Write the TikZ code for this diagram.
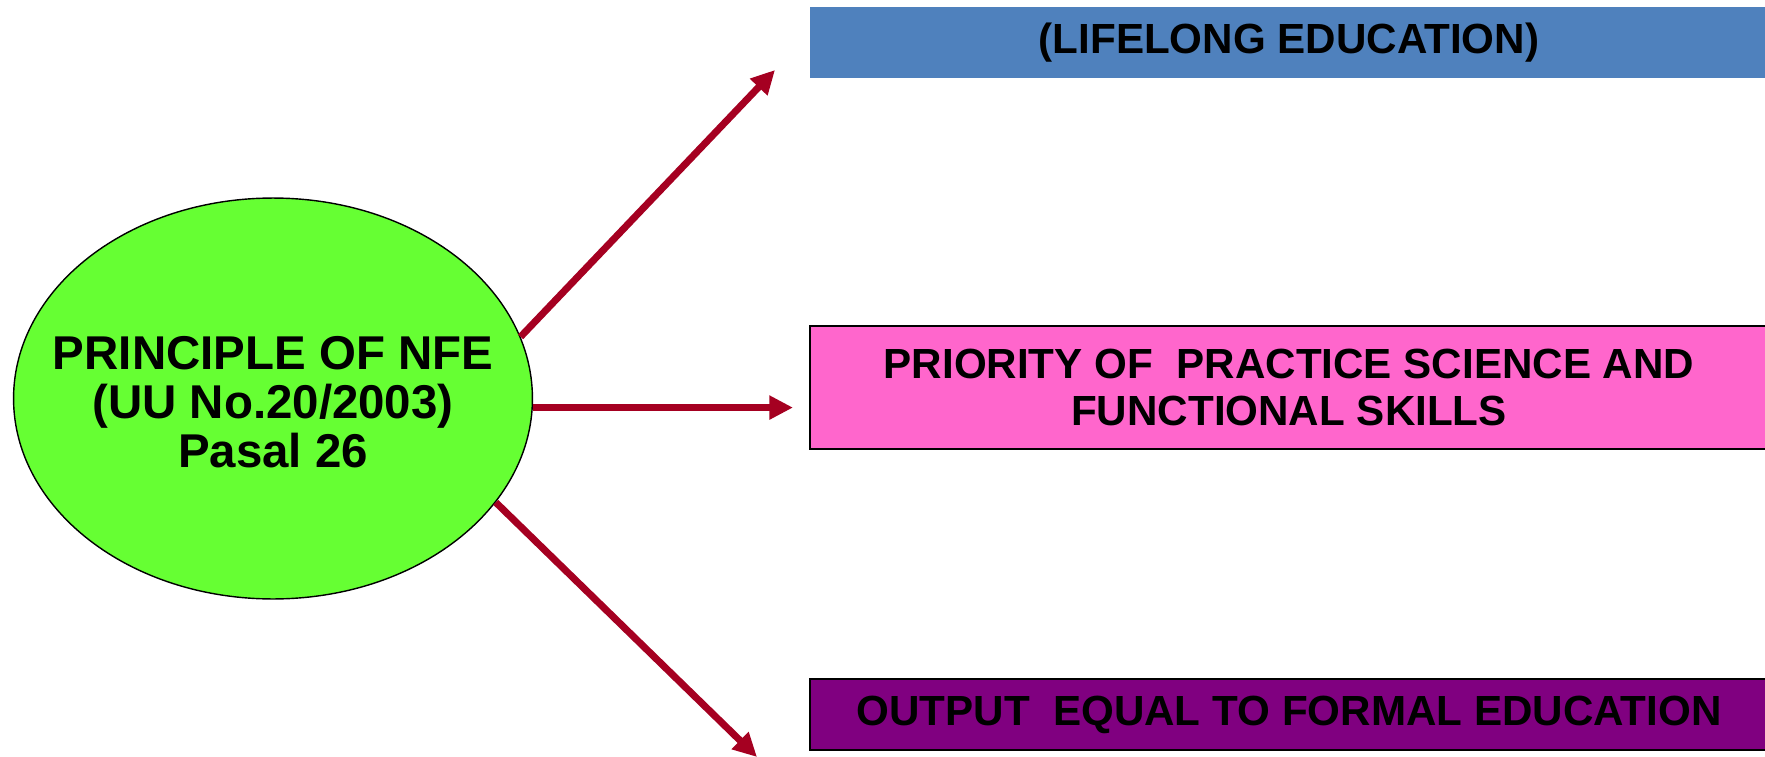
\documentclass[tikz,border=0pt]{standalone}
\usepackage{fontspec}
\setmainfont{Liberation Sans}
\usetikzlibrary{shapes,arrows.meta,positioning}
\definecolor{nfegreen}{RGB}{102,255,51}
\definecolor{lifeblue}{RGB}{79,129,189}
\definecolor{prioritypink}{RGB}{255,102,204}
\definecolor{outputpurple}{RGB}{128,0,128}
\definecolor{arrowred}{RGB}{165,0,33}
\begin{document}
\begin{tikzpicture}[x=0.02cm, y=-0.02cm, thick]
        % Define block styles
        \tikzstyle{ovalnode} = [ellipse, draw=black, fill=nfegreen, line width=0.8pt, minimum width=10.38cm, minimum height=8.02cm, inner sep=0pt]
        \tikzstyle{ovaltext} = [text centered, align=center, font=\fontsize{27}{28}\selectfont\bfseries]
        \tikzstyle{bannernode} = [rectangle, minimum width=19.16cm, inner sep=0pt, text centered, align=center, font=\fontsize{24}{27}\selectfont\bfseries]
        \tikzstyle{line} = [draw=arrowred, line width=4pt, -{Triangle[length=13.5pt, width=13pt]}]

        \useasboundingbox (0,0) rectangle (1765,757);

        % Define nodes
        \node [ovalnode] (nfe) at (273,398.5) {};
        \node [ovaltext] (nfetext) at (273,402) {PRINCIPLE OF NFE\\(UU No.20/2003)\\Pasal 26};
        \node [bannernode, fill=lifeblue, minimum height=1.42cm] (life) at (1289,42.5) {(LIFELONG EDUCATION)};
        \node [bannernode, fill=prioritypink, draw=black, line width=0.8pt, minimum height=2.46cm] (prio) at (1289,387.5) {PRIORITY OF\ \ PRACTICE SCIENCE AND\\FUNCTIONAL SKILLS};
        \node [bannernode, fill=outputpurple, draw=black, line width=0.8pt, minimum height=1.42cm] (output) at (1289,714.5) {OUTPUT\ \ EQUAL TO FORMAL EDUCATION};

        % Arrow ends
        \coordinate (lifeend) at (775,70);
        \coordinate (prioend) at (793,406);
        \coordinate (outputend) at (757,757);

        % Connect nodes with paths
        \draw[line] (nfe.14) -- (lifeend);
        \draw[line] (nfe.-2) -- (nfe.-2 -| prioend);
        \draw[line] (nfe.-25) -- (outputend);

    \end{tikzpicture}
\end{document}
